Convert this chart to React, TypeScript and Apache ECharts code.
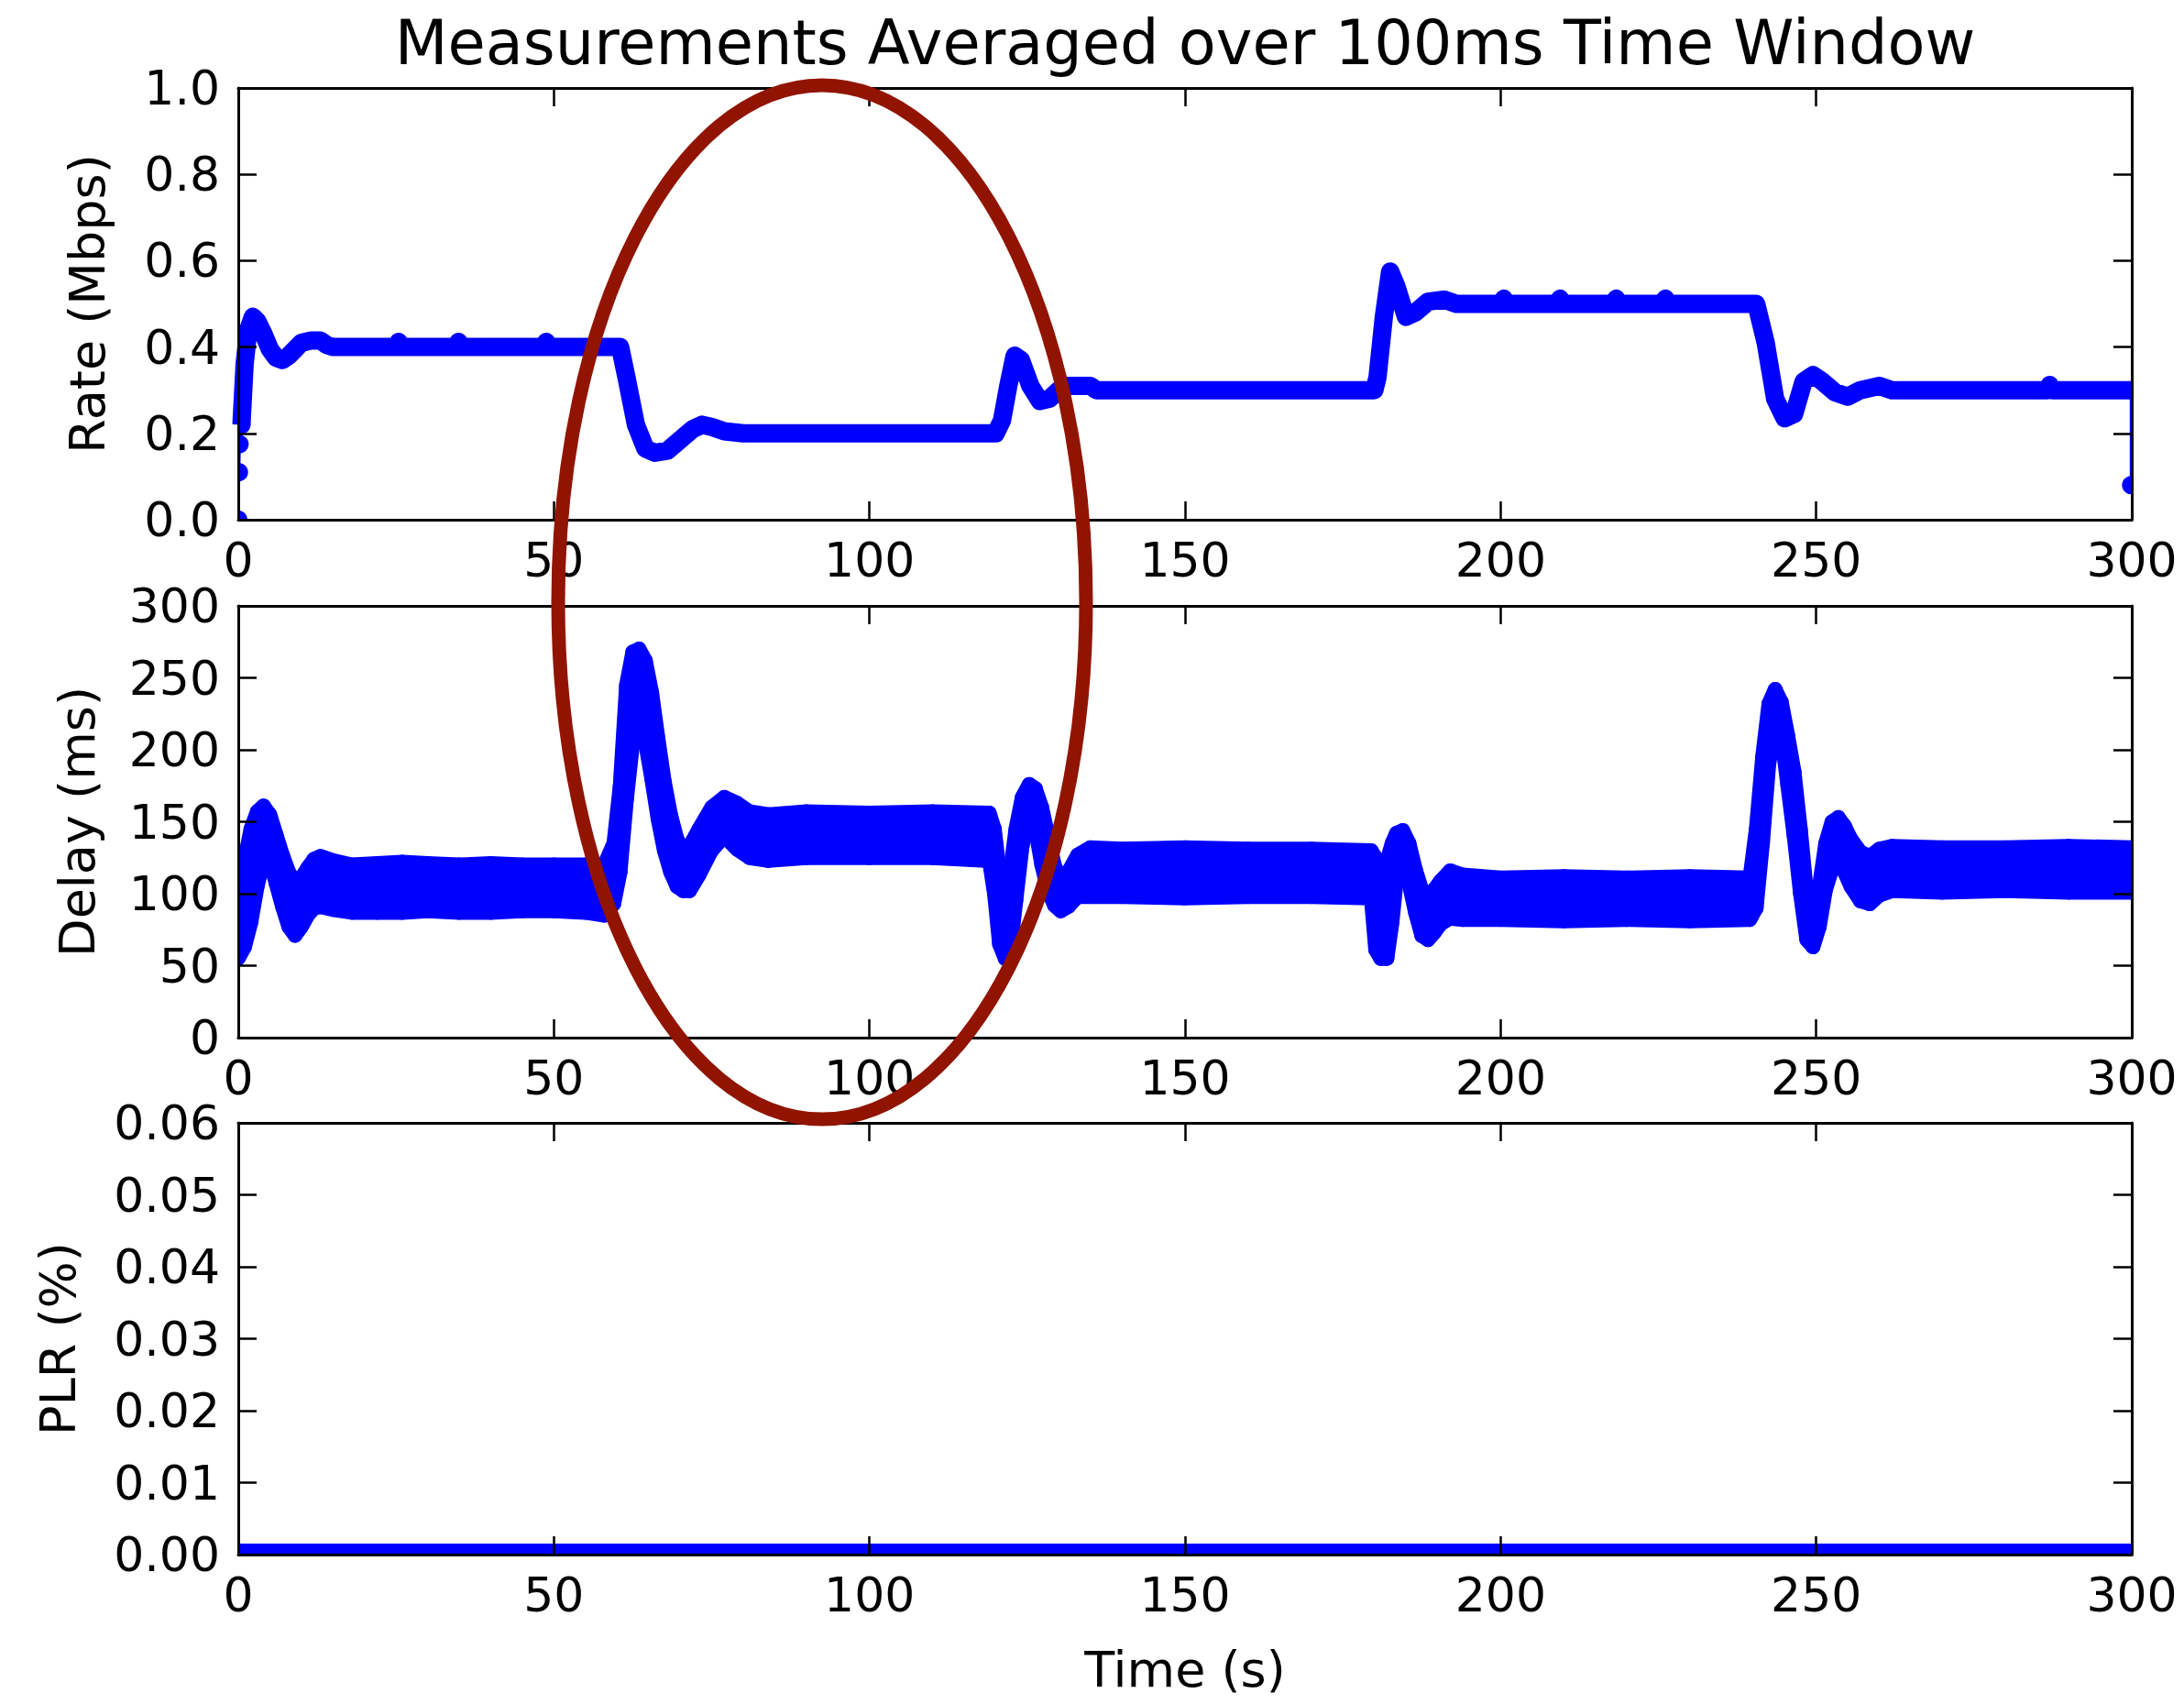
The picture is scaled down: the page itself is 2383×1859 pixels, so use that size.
import React, { useEffect, useRef } from "react";
import * as echarts from "echarts";

// ---------------- data ----------------
const titleText = "Measurements Averaged over 100ms Time Window";
const xTicks = [0, 50, 100, 150, 200, 250, 300];
const rateTicks = [0, 0.2, 0.4, 0.6, 0.8, 1.0];
const delayTicks = [0, 50, 100, 150, 200, 250, 300];
const plrTicks = [0, 0.01, 0.02, 0.03, 0.04, 0.05, 0.06];

// rate: first sparse samples (thin line + dots)
const rateStartTime = [0, 0.1, 0.2, 0.5];
const rateStartValue = [0.0, 0.11, 0.175, 0.22];
// rate: dense samples (drawn as a thick band)
const rateTime = [
  0.5, 1.0, 1.6, 2.3, 3.0, 4.0, 5.0, 6.0, 7.0, 8.0, 9.0, 10.0, 11.5, 13.0, 14.0, 15.0,
  25.0, 25.4, 25.8, 34.5, 34.9, 35.3, 48.4, 48.8, 49.2, 60.5, 61.5, 63.0, 64.5, 66.0,
  68.0, 70.0, 72.0, 73.5, 75.0, 77.0, 80.0, 120.0, 121.0, 122.0, 123.0, 124.0, 125.5,
  127.0, 128.5, 130.0, 131.0, 135.0, 136.0, 180.0, 180.5, 181.5, 182.5, 183.5, 185.0,
  186.5, 188.5, 191.0, 193.0, 200.1, 200.5, 200.9, 209.0, 209.4, 209.8, 217.9, 218.3,
  218.7, 225.7, 226.1, 226.5, 240.5, 242.0, 243.5, 245.0, 246.5, 248.0, 249.5, 251.0,
  253.0, 255.0, 257.0, 260.0, 262.0, 286.6, 287.0, 287.4, 300.0,
];
const rateValue = [
  0.22, 0.36, 0.44, 0.47, 0.46, 0.43, 0.395, 0.375, 0.37, 0.38, 0.395, 0.41, 0.415, 0.415, 0.405, 0.40,
  0.40, 0.412, 0.40, 0.40, 0.412, 0.40, 0.40, 0.412, 0.40, 0.40, 0.33, 0.22, 0.165, 0.155,
  0.16, 0.185, 0.21, 0.22, 0.215, 0.205, 0.20, 0.20, 0.23, 0.31, 0.38, 0.37, 0.31,
  0.275, 0.28, 0.30, 0.31, 0.31, 0.30, 0.30, 0.33, 0.47, 0.575, 0.54, 0.47,
  0.48, 0.505, 0.51, 0.50, 0.50, 0.512, 0.50, 0.50, 0.512, 0.50, 0.50, 0.512,
  0.50, 0.50, 0.512, 0.50, 0.50, 0.41, 0.28, 0.235, 0.245, 0.32, 0.335, 0.32,
  0.295, 0.285, 0.30, 0.31, 0.30, 0.30, 0.312, 0.30, 0.30,
];
// rate: last sample
const rateEndTime = [299.9, 299.9];
const rateEndValue = [0.30, 0.08];

// delay: envelope (marker centres) of the 100 ms samples
const delayTime = [
  0, 1, 2, 3, 4, 5, 6, 7, 8, 9, 10, 11, 12, 13, 15, 18, 22, 26, 30, 35, 40, 45, 50, 55, 58,
  59.5, 60.5, 61.5, 62.5, 63.5, 64.5, 65.5, 66.5, 67.5, 68.5, 69.5, 70.5, 71.5, 73, 75, 77,
  79, 81, 84, 90, 100, 110, 119, 119.8, 120.6, 121.5, 122.3, 123.2, 124.2, 125.3, 126.3,
  127.3, 128.3, 129.3, 130.3, 131.5, 133, 135, 140, 150, 160, 170, 179.5, 180.2, 181, 182,
  182.8, 183.5, 184.5, 185.5, 186.5, 187.5, 188.5, 189.5, 190.5, 192, 194, 200, 210, 220,
  230, 239.5, 240.5, 241.5, 242.5, 243.5, 244.5, 245.5, 246.5, 247.5, 248.5, 249.5, 250.5,
  251.5, 252.5, 253.5, 254.5, 255.5, 257, 258.5, 260, 262, 270, 280, 290, 300,
];
const delayUpper = [
  95, 123, 145, 157, 161, 155, 141, 127, 115, 108, 111, 118, 124, 126, 123, 120, 121, 122, 121, 120, 121, 120, 120, 120, 120,
  135, 175, 245, 268, 270, 262, 240, 208, 178, 155, 138, 130, 133, 145, 160, 167,
  163, 157, 155, 157, 156, 157, 156, 145, 115, 103, 115, 145, 167, 176, 173,
  160, 140, 120, 110, 115, 127, 132, 131, 132, 131, 131, 130, 125, 120, 123,
  135, 142, 144, 135, 117, 103, 99, 103, 109, 116, 113, 111, 112, 111,
  112, 111, 145, 195, 232, 242, 233, 210, 185, 145, 100, 83, 105,
  135, 150, 153, 147, 138, 129, 126, 131, 133, 132, 132, 133, 132,
];
const delayLower = [
  55, 63, 80, 105, 123, 123, 107, 91, 77, 71, 77, 85, 90, 91, 89, 87, 87, 87, 88, 87, 87, 88, 88, 87, 85,
  93, 115, 165, 205, 215, 205, 180, 152, 130, 115, 105, 102, 102, 113, 130, 140,
  131, 125, 123, 125, 125, 125, 123, 100, 65, 55, 60, 95, 133, 155, 145,
  120, 102, 92, 88, 91, 98, 98, 98, 97, 98, 98, 97, 61, 55, 55,
  80, 110, 120, 107, 87, 71, 68, 73, 79, 83, 82, 82, 81, 82,
  81, 82, 90, 135, 190, 215, 210, 175, 140, 100, 68, 63, 77,
  103, 117, 121, 115, 105, 95, 93, 99, 102, 101, 102, 101, 101,
];

// packet loss ratio
const plrTime = [0, 300];
const plrValue = [0, 0];

// ---------------- styling ----------------
const FONT = '"DejaVu Sans", "Noto Sans", sans-serif';
const BLUE = "#0000ff";
const BLACK = "#000000";
const GRID_LEFT = 260;
const GRID_RIGHT = 57;
const GRID_TOPS = [96, 661, 1225];
const GRID_H = 471;
const TICK_FONT = 52;
const NAME_FONT = 54;

function xAxes(g: number, withName: boolean) {
  const base: any = {
    gridIndex: g,
    type: "value",
    min: xTicks[0],
    max: xTicks[xTicks.length - 1],
    interval: xTicks[1] - xTicks[0],
    z: 10,
    splitLine: { show: false },
    axisLine: { show: true, onZero: false, lineStyle: { color: BLACK, width: 3 } },
    axisTick: { show: true, inside: true, length: 20, lineStyle: { color: BLACK, width: 2.5 } },
  };
  const bottom: any = {
    ...base,
    position: "bottom",
    axisLabel: { show: true, margin: 18, fontSize: TICK_FONT, fontFamily: FONT, color: BLACK },
  };
  if (withName) {
    bottom.name = "Time (s)";
    bottom.nameLocation = "middle";
    bottom.nameGap = 98;
    bottom.nameTextStyle = { fontSize: NAME_FONT, fontFamily: FONT, color: BLACK };
  }
  const top: any = { ...base, position: "top", axisLabel: { show: false } };
  return [bottom, top];
}

function yAxes(g: number, ticks: number[], name: string, nameGap: number, decimals: number) {
  const base: any = {
    gridIndex: g,
    type: "value",
    min: ticks[0],
    max: ticks[ticks.length - 1],
    interval: ticks[1] - ticks[0],
    z: 10,
    splitLine: { show: false },
    axisLine: { show: true, onZero: false, lineStyle: { color: BLACK, width: 3 } },
    axisTick: { show: true, inside: true, length: 20, lineStyle: { color: BLACK, width: 2.5 } },
  };
  const left: any = {
    ...base,
    position: "left",
    name,
    nameLocation: "middle",
    nameRotate: 90,
    nameGap,
    nameTextStyle: { fontSize: NAME_FONT, fontFamily: FONT, color: BLACK },
    axisLabel: {
      show: true,
      margin: 20,
      fontSize: TICK_FONT,
      fontFamily: FONT,
      color: BLACK,
      formatter: (v: number) => v.toFixed(decimals),
    },
  };
  const right: any = { ...base, position: "right", axisLabel: { show: false } };
  return [left, right];
}

// thin line joining sparse samples, with a round marker on each sample
function dotLineSeries(times: number[], values: number[], g: number) {
  return {
    type: "custom",
    xAxisIndex: 2 * g,
    yAxisIndex: 2 * g,
    clip: true,
    z: 3,
    data: times.map((t, i) => [t, values[i]]),
    encode: { x: 0, y: 1 },
    renderItem: (params: any, api: any) => {
      const i = params.dataIndex;
      const j = i > 0 ? i - 1 : 0;
      const p = api.coord([api.value(0), api.value(1)]);
      const q = api.coord([times[j], values[j]]);
      return {
        type: "group",
        children: [
          { type: "line", shape: { x1: q[0], y1: q[1], x2: p[0], y2: p[1] }, style: { stroke: BLUE, lineWidth: 3 } },
          { type: "circle", shape: { cx: p[0], cy: p[1], r: 10 }, style: { fill: BLUE } },
        ],
      };
    },
  };
}

// filled band between lower and upper envelope, outlined by the marker radius
function bandSeries(times: number[], lower: number[], upper: number[], g: number) {
  return {
    type: "custom",
    xAxisIndex: 2 * g,
    yAxisIndex: 2 * g,
    clip: true,
    z: 2,
    data: times.map((t, i) => [t, lower[i], upper[i]]),
    encode: { x: 0, y: [1, 2] },
    renderItem: (params: any, api: any) => {
      const i = params.dataIndex;
      if (i === 0) return null;
      const a = api.coord([times[i - 1], upper[i - 1]]);
      const b = api.coord([api.value(0), api.value(2)]);
      const c = api.coord([api.value(0), api.value(1)]);
      const d = api.coord([times[i - 1], lower[i - 1]]);
      return {
        type: "polygon",
        shape: { points: [a, b, c, d] },
        style: { fill: BLUE, stroke: BLUE, lineWidth: 16, lineJoin: "round" },
      };
    },
  };
}

// thick line clipped exactly at the plot frame
function thickClippedLine(times: number[], values: number[], g: number, width: number) {
  return {
    type: "custom",
    xAxisIndex: 2 * g,
    yAxisIndex: 2 * g,
    clip: true,
    z: 2,
    data: times.map((t, i) => [t, values[i]]),
    encode: { x: 0, y: 1 },
    renderItem: (params: any, api: any) => {
      const i = params.dataIndex;
      if (i === 0) return null;
      const a = api.coord([times[i - 1], values[i - 1]]);
      const b = api.coord([api.value(0), api.value(1)]);
      return {
        type: "line",
        shape: { x1: a[0], y1: a[1], x2: b[0], y2: b[1] },
        style: { stroke: BLUE, lineWidth: width },
      };
    },
  };
}

function buildOption(): any {
  const grids = GRID_TOPS.map((top) => ({
    left: GRID_LEFT,
    right: GRID_RIGHT,
    top,
    height: GRID_H,
    show: false,
    containLabel: false,
  }));

  const xAxis = [...xAxes(0, false), ...xAxes(1, false), ...xAxes(2, true)];
  const yAxis = [
    ...yAxes(0, rateTicks, "Rate (Mbps)", 138, 1),
    ...yAxes(1, delayTicks, "Delay (ms)", 149, 0),
    ...yAxes(2, plrTicks, "PLR (%)", 170, 2),
  ];

  const series: any[] = [
    dotLineSeries(rateStartTime, rateStartValue, 0),
    {
      type: "line",
      xAxisIndex: 0,
      yAxisIndex: 0,
      data: rateTime.map((t, i) => [t, rateValue[i]]),
      symbol: "none",
      showSymbol: false,
      clip: true,
      z: 2,
      lineStyle: { color: BLUE, width: 20, cap: "butt", join: "round" },
    },
    dotLineSeries(rateEndTime, rateEndValue, 0),
    bandSeries(delayTime, delayLower, delayUpper, 1),
    thickClippedLine(plrTime, plrValue, 2, 24),
  ];

  return {
    animation: false,
    backgroundColor: "#ffffff",
    title: {
      text: titleText,
      left: 1293,
      top: 47,
      padding: 0,
      textAlign: "center",
      textVerticalAlign: "middle",
      textStyle: { fontSize: 67, fontWeight: "normal", fontFamily: FONT, color: BLACK },
    },
    grid: grids,
    xAxis,
    yAxis,
    series,
    graphic: [
      {
        type: "ellipse",
        z: 100,
        shape: { cx: 897, cy: 657, rx: 288, ry: 564 },
        style: { fill: "none", stroke: "#911400", lineWidth: 15 },
      },
    ],
  };
}

export default function App() {
  const ref = useRef<HTMLDivElement>(null);
  useEffect(() => {
    if (!ref.current) return;
    const chart = echarts.init(ref.current, null, { renderer: "svg" });
    chart.setOption(buildOption());
    return () => chart.dispose();
  }, []);
  return (
    <div
      ref={ref}
      style={{ position: "fixed", left: 0, top: 0, width: 2383, height: 1859, background: "#ffffff" }}
    />
  );
}
